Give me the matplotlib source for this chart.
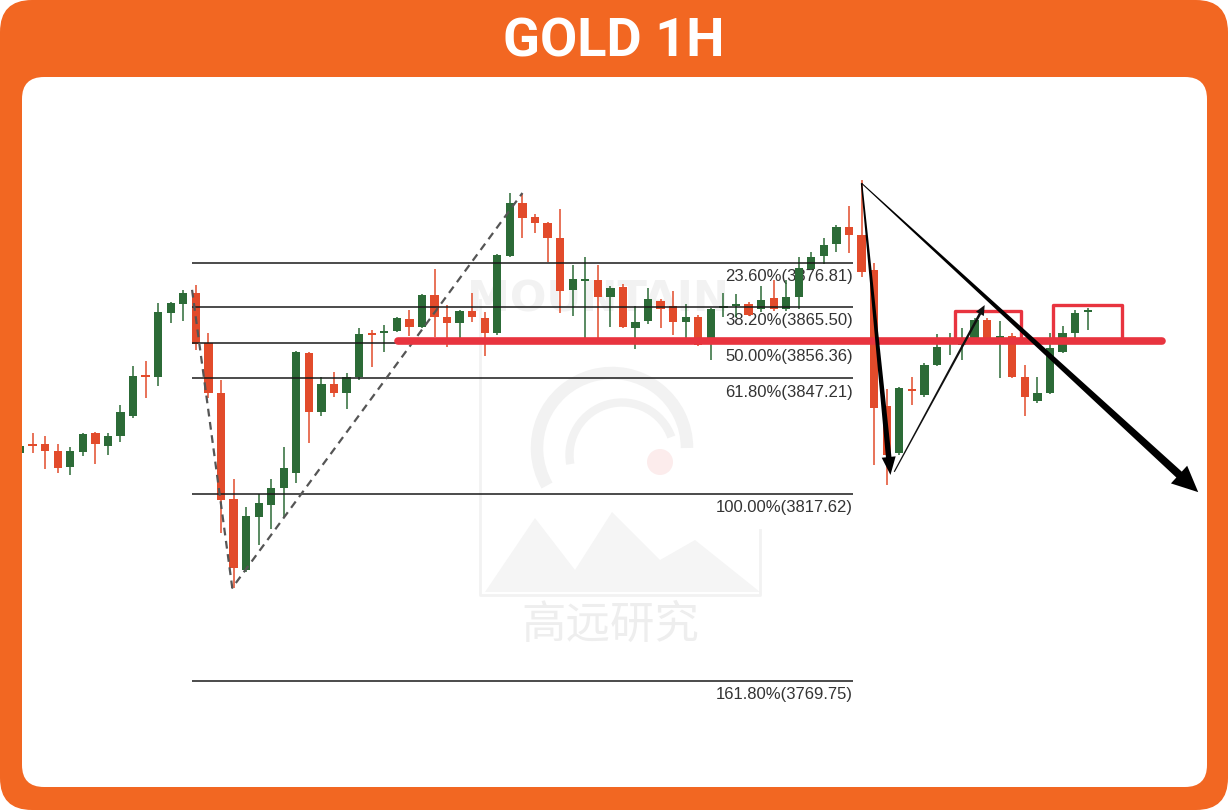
import matplotlib
matplotlib.use("Agg")
import matplotlib.pyplot as plt
import numpy as np
from matplotlib.patches import FancyBboxPatch, Polygon, Arc, Circle

# ---- candle data (GOLD 1H) ----
opens = [3828.1, 3830.4, 3830.4, 3828.6, 3824.5, 3828.4, 3833.3, 3829.9, 3832.5, 3837.6,
         3848.1, 3847.6, 3864.0, 3866.3, 3869.1, 3856.3, 3843.5, 3816.4, 3798.2, 3811.7,
         3814.8, 3819.2, 3823.0, 3853.7, 3838.6, 3845.8, 3843.5, 3847.6, 3858.9, 3858.9,
         3859.4, 3862.4, 3860.4, 3868.6, 3862.9, 3861.4, 3864.5, 3862.7, 3858.9, 3878.6,
         3892.1, 3888.5, 3887.0, 3883.2, 3869.9, 3872.2, 3872.4, 3868.1, 3870.6, 3860.1,
         3861.9, 3867.0, 3865.8, 3861.7, 3862.9, 3856.8, 3865.3, 3865.8, 3866.3, 3865.0,
         3867.8, 3865.0, 3868.1, 3875.2, 3878.6, 3881.6, 3886.0, 3883.9, 3875.0, 3840.2,
         3828.1, 3844.5, 3843.0, 3850.7, 3856.0, 3855.8, 3857.6, 3862.2, 3857.6, 3858.1,
         3847.6, 3841.4, 3843.5, 3854.0, 3858.9, 3864.2]
highs = [3830.7, 3833.3, 3832.5, 3830.4, 3829.7, 3833.3, 3833.5, 3833.3, 3840.4, 3850.4,
         3851.7, 3866.5, 3866.8, 3869.9, 3871.1, 3858.9, 3846.8, 3821.5, 3814.3, 3817.6,
         3821.5, 3829.7, 3854.2, 3854.0, 3847.6, 3848.9, 3848.6, 3860.1, 3859.6, 3860.9,
         3862.9, 3864.7, 3868.8, 3875.2, 3866.0, 3864.7, 3869.1, 3864.2, 3879.1, 3894.7,
         3894.4, 3889.3, 3887.3, 3890.6, 3876.3, 3878.3, 3876.3, 3870.9, 3871.4, 3865.8,
         3870.4, 3867.6, 3869.6, 3866.3, 3863.5, 3865.2, 3869.1, 3868.8, 3866.8, 3870.9,
         3872.4, 3872.4, 3878.3, 3879.6, 3883.2, 3886.5, 3891.4, 3898.0, 3876.8, 3844.5,
         3845.0, 3847.6, 3851.2, 3858.6, 3858.9, 3860.1, 3862.7, 3862.7, 3861.9, 3858.9,
         3850.7, 3847.6, 3858.9, 3860.6, 3864.7, 3865.3]
lows = [3827.4, 3828.1, 3824.0, 3823.0, 3822.5, 3827.4, 3825.3, 3827.6, 3830.9, 3837.1,
        3842.2, 3845.3, 3861.4, 3861.9, 3854.5, 3842.2, 3807.7, 3793.6, 3797.7, 3804.6,
        3808.7, 3811.5, 3820.5, 3830.7, 3837.6, 3842.5, 3839.4, 3846.8, 3850.1, 3854.0,
        3859.1, 3858.1, 3860.1, 3857.8, 3855.3, 3857.1, 3861.7, 3853.0, 3858.3, 3878.3,
        3883.2, 3884.5, 3877.1, 3864.0, 3863.2, 3857.3, 3857.3, 3860.4, 3860.1, 3854.8,
        3861.2, 3860.1, 3858.3, 3857.3, 3855.5, 3851.9, 3862.9, 3862.9, 3863.2, 3864.2,
        3864.5, 3864.5, 3865.0, 3875.0, 3876.5, 3879.6, 3879.3, 3873.2, 3825.1, 3819.9,
        3827.6, 3840.4, 3842.5, 3850.4, 3853.2, 3851.9, 3857.1, 3857.1, 3847.3, 3847.3,
        3837.6, 3840.9, 3843.3, 3853.7, 3857.6, 3859.6]
closes = [3829.9, 3829.9, 3828.6, 3824.3, 3828.6, 3833.0, 3830.4, 3832.5, 3838.6, 3847.8,
          3847.6, 3864.2, 3866.5, 3869.1, 3856.0, 3843.5, 3816.1, 3798.7, 3812.0, 3815.3,
          3819.2, 3824.3, 3854.0, 3838.6, 3845.8, 3843.5, 3847.6, 3858.6, 3858.3, 3859.4,
          3862.7, 3860.4, 3868.6, 3862.9, 3861.4, 3864.5, 3862.9, 3858.9, 3878.8, 3892.1,
          3888.3, 3887.0, 3883.2, 3869.6, 3872.7, 3872.4, 3868.1, 3870.4, 3860.4, 3861.7,
          3867.6, 3865.0, 3861.7, 3862.9, 3855.8, 3865.0, 3865.5, 3866.0, 3863.5, 3867.3,
          3865.0, 3868.1, 3875.5, 3878.3, 3881.4, 3886.0, 3883.9, 3874.5, 3839.7, 3827.6,
          3844.8, 3844.0, 3850.7, 3855.3, 3856.5, 3856.8, 3862.2, 3857.6, 3858.1, 3847.6,
          3842.5, 3843.5, 3855.0, 3858.9, 3864.0, 3864.5]

# fibonacci retracement levels
fib_pct = ["23.60%", "38.20%", "50.00%", "61.80%", "100.00%", "161.80%"]
fib_val = [3876.81, 3865.50, 3856.36, 3847.21, 3817.62, 3769.75]
fib_x = [13.7, 66.3]

# drawn annotations (bar index, price)
dash_x = [13.7, 16.9, 40.0]
dash_y = [3869.9, 3793.6, 3894.7]
support_x = [30.1, 90.9]
support_y = 3856.8
boxes = [(74.4, 79.7, 3864.5), (82.2, 87.7, 3866.0)]
arrow_down = [(67.0, 3897.2), (69.3, 3822.5)]
arrow_up = [(69.6, 3823.3), (76.8, 3866.0)]
arrow_big = [(67.0, 3897.2), (93.8, 3818.1)]

GREEN = "#2c6b37"
RED = "#e24b2b"
ORANGE = "#f26722"
LINE_RED = "#e8343f"

fig = plt.figure(figsize=(12.28, 8.1), dpi=100)
fig.patch.set_facecolor("white")

# background frame / title / watermark, in pixel units
bg = fig.add_axes([0, 0, 1, 1])
bg.set_xlim(0, 1228)
bg.set_ylim(810, 0)
bg.axis("off")
bg.add_patch(FancyBboxPatch((0, 0), 1228, 810, boxstyle="round,pad=0,rounding_size=32",
                            fc=ORANGE, ec="none"))
bg.add_patch(FancyBboxPatch((22, 77), 1185, 710, boxstyle="round,pad=0,rounding_size=22",
                            fc="white", ec="none"))
bg.text(614, 42, "GOLD 1H", color="white", fontsize=39, fontweight="bold",
        family="Roboto", ha="center", va="center")

wm = "#f2f2f2"
bg.text(598, 300, "MOUNTAIN", fontsize=31, color=wm, ha="center", va="center",
        fontweight="bold", family="DejaVu Sans")
bg.add_patch(Arc((612, 448), 150, 150, theta1=150, theta2=360, lw=9, color=wm))
bg.add_patch(Arc((622, 455), 105, 105, theta1=170, theta2=340, lw=6, color=wm))
bg.add_patch(Circle((660, 462), 13, color="#fcecec", lw=0))
bg.add_patch(Polygon([(485, 592), (535, 518), (575, 570), (612, 512), (660, 560),
                      (695, 540), (760, 592)], closed=True, fc="#f5f5f5", ec="none"))
bg.plot([480, 480, 760, 760], [300, 595, 595, 530], color=wm, lw=2)
bg.text(610, 625, "高远研究", fontsize=32, color="#eeeeee", ha="center", va="center",
        family=["Noto Sans CJK SC", "DejaVu Sans"])

# chart axes
ax = fig.add_axes([22 / 1228, 23 / 810, 1185 / 1228, 710 / 810])
ax.patch.set_alpha(0)
ax.set_xlim(0.16, 94.5)
ax.set_ylim(3742.6, 3924.4)
ax.axis("off")

x = np.arange(len(opens))
o = np.array(opens)
c = np.array(closes)
up = c >= o
cols = np.where(up, GREEN, RED)
ax.vlines(x, lows, highs, colors=cols, lw=1.1, zorder=2)
bottom = np.minimum(o, c)
height = np.maximum(np.abs(c - o), 0.45)
ax.bar(x, height, bottom=bottom, width=0.66, color=cols, zorder=2)

# fib lines and labels
ax.hlines(fib_val, fib_x[0], fib_x[1], color="#1a1a1a", lw=1.1, zorder=3)
for p, v in zip(fib_pct, fib_val):
    ax.annotate(f"{p}({v:.2f})", xy=(fib_x[1], v), xytext=(0, -4.5),
                textcoords="offset points", ha="right", va="top", fontsize=12,
                family="Liberation Sans", color="#333333", zorder=1)

ax.plot(dash_x, dash_y, color="#555555", lw=1.6, ls=(0, (3.5, 2.5)), zorder=4)

# support line and boxes
ax.plot(support_x, [support_y, support_y], color=LINE_RED, lw=5.5,
        solid_capstyle="round", zorder=5)
for x0, x1, top in boxes:
    ax.plot([x0, x0, x1, x1], [support_y, top, top, support_y], color=LINE_RED,
            lw=2.4, solid_joinstyle="round", zorder=5)


def taper_arrow(p0, p1, w0, w1, hw, hl, color="black"):
    a = ax.transData.transform(p0)
    b = ax.transData.transform(p1)
    d = b - a
    u = d / np.hypot(*d)
    n = np.array([-u[1], u[0]])
    base = b - u * hl
    pts = [a + n * w0 / 2, base + n * w1 / 2, base + n * hw / 2, b,
           base - n * hw / 2, base - n * w1 / 2, a - n * w0 / 2]
    pts = ax.transData.inverted().transform(np.array(pts))
    ax.add_patch(Polygon(pts, closed=True, fc=color, ec="none", zorder=6))


taper_arrow(arrow_down[0], arrow_down[1], 1.5, 5.5, 14, 18)
taper_arrow(arrow_up[0], arrow_up[1], 1.2, 2.6, 9, 10, color="#111111")
taper_arrow(arrow_big[0], arrow_big[1], 1.0, 8, 24, 26)

fig.savefig("out.png", dpi=100)
